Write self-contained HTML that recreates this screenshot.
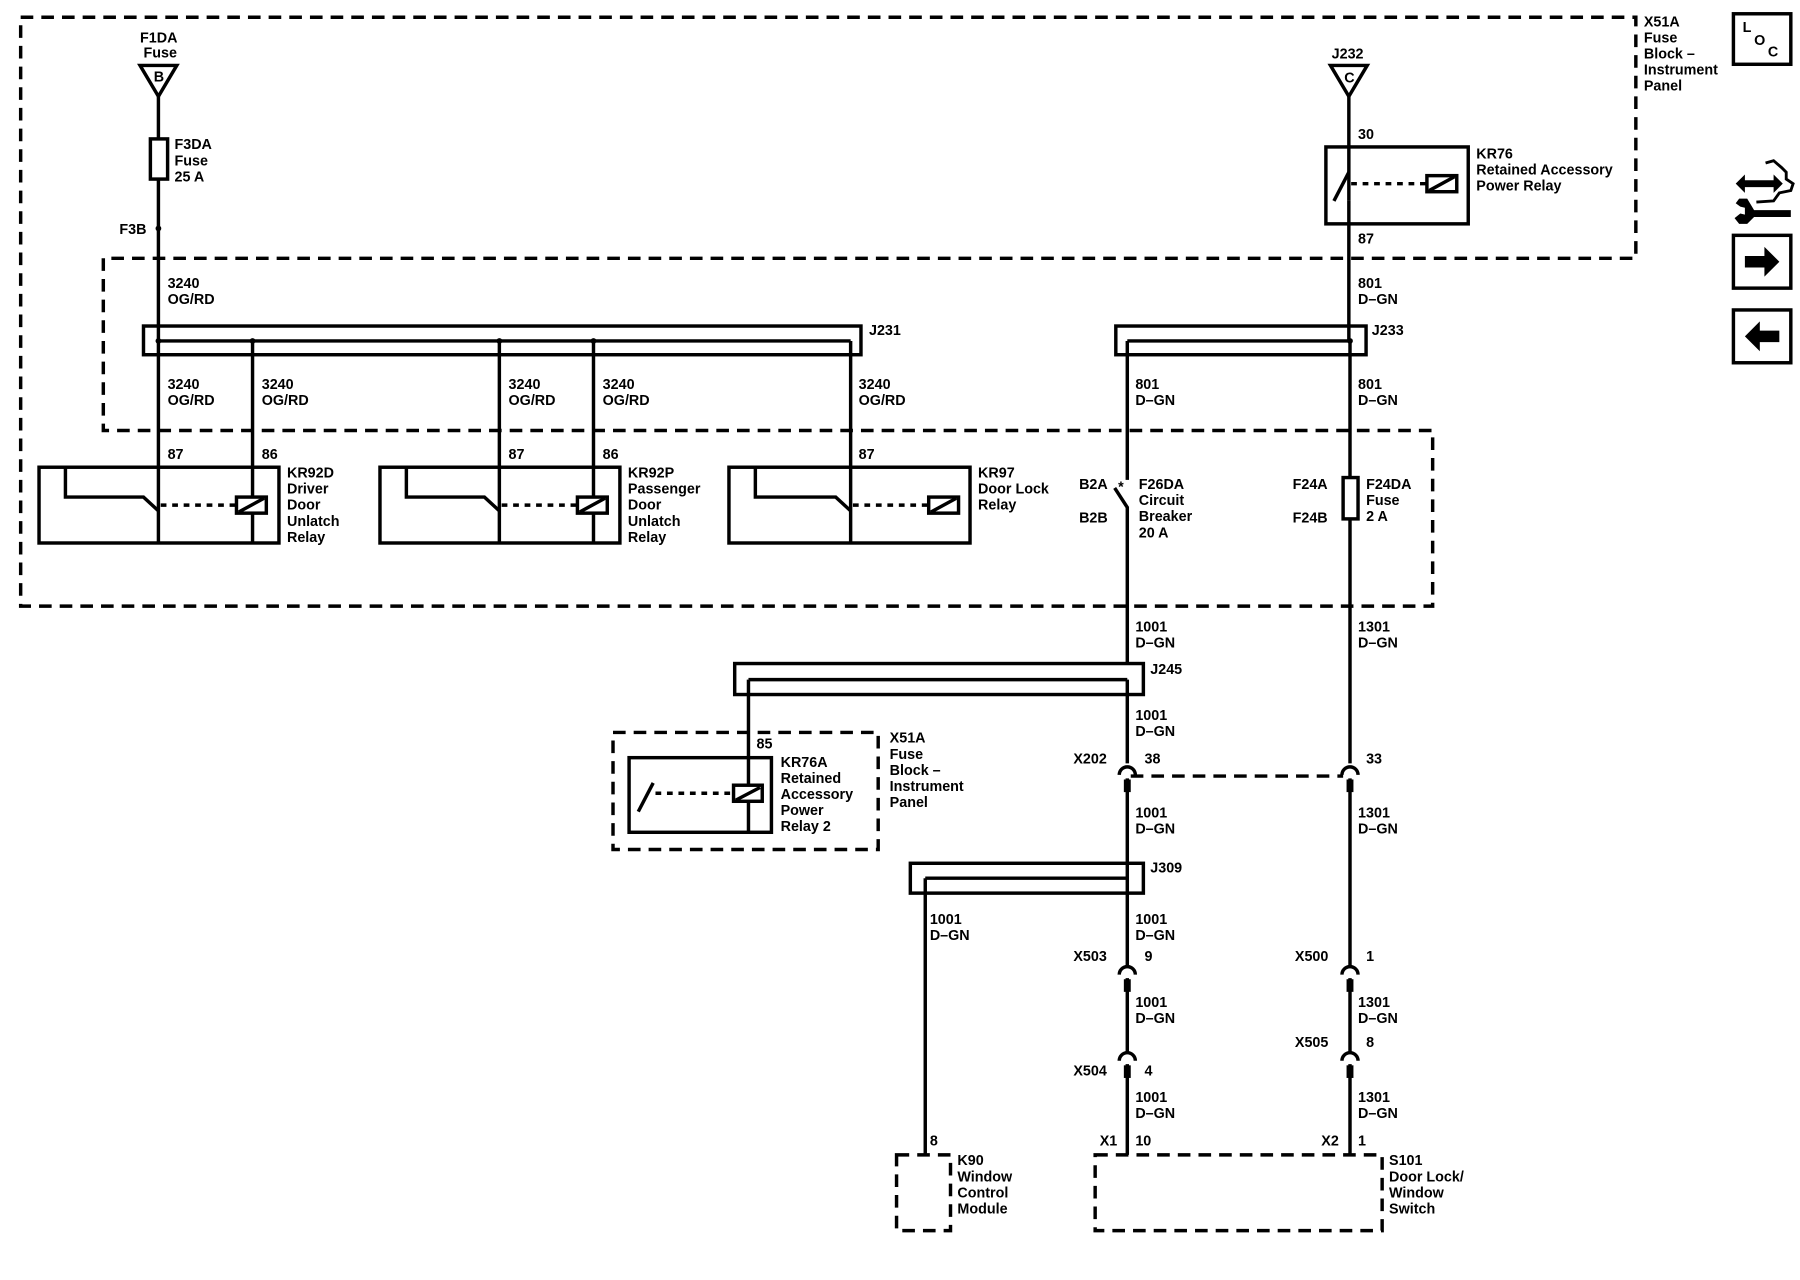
<!DOCTYPE html>
<html><head><meta charset="utf-8"><style>
html,body{margin:0;padding:0;background:#fff;}
svg{display:block;}
text{font-family:"Liberation Sans",Arial,sans-serif;font-size:12.5px;font-weight:bold;fill:#000;}
</style></head><body>
<svg width="1800" height="1280" viewBox="0 0 1568 1115" preserveAspectRatio="none" xmlns="http://www.w3.org/2000/svg">
<g fill="none" stroke="#000" stroke-width="3" stroke-dasharray="11,7">
<path d="M18,15 H1425 V225 H90 V375 H1248 V528 H18 Z"/>
<rect x="534" y="638" width="231" height="102"/>
<rect x="781" y="1006" width="47" height="66"/>
<rect x="954" y="1006" width="250" height="66"/>
<line x1="985" y1="676" x2="1170" y2="676"/>
</g>
<g fill="none" stroke="#000" stroke-width="3">
<!-- left feed -->
<polygon points="122,57 154,57 138,84"/>
<line x1="138" y1="84" x2="138" y2="473"/>
<rect x="131" y="121" width="15" height="35" fill="#fff"/>
<!-- J231 bus -->
<rect x="125" y="284" width="625" height="25"/>
<line x1="138" y1="297" x2="741" y2="297"/>
<line x1="741" y1="297" x2="741" y2="473"/>
<line x1="220" y1="297" x2="220" y2="473"/>
<line x1="435" y1="297" x2="435" y2="473"/>
<line x1="517" y1="297" x2="517" y2="473"/>
<!-- relays -->
<rect x="34" y="407" width="209" height="66"/>
<rect x="331" y="407" width="209" height="66"/>
<rect x="635" y="407" width="210" height="66"/>
<path d="M57,407 V433 H125 L138,445"/>
<path d="M354,407 V433 H422 L435,445"/>
<path d="M658,407 V433 H728 L741,445"/>
<rect x="206" y="433" width="26" height="14" fill="#fff"/>
<rect x="503" y="433" width="26" height="14" fill="#fff"/>
<rect x="809" y="433" width="26" height="14" fill="#fff"/>
<line x1="208" y1="446" x2="230" y2="434"/>
<line x1="505" y1="446" x2="527" y2="434"/>
<line x1="811" y1="446" x2="833" y2="434"/>
<!-- right feed -->
<polygon points="1159,57 1191,57 1175,84"/>
<line x1="1175" y1="84" x2="1175" y2="175"/>
<rect x="1155" y="128" width="124" height="67"/>
<path d="M1162,175 L1175,150"/>
<line x1="1175" y1="175" x2="1175" y2="297"/>
<rect x="1243" y="153" width="26" height="14" fill="#fff"/>
<line x1="1245" y1="166" x2="1267" y2="154"/>
<!-- J233 -->
<rect x="972" y="284" width="218" height="25"/>
<line x1="982" y1="297" x2="1176" y2="297"/>
<line x1="982" y1="297" x2="982" y2="418"/>
<path d="M971,425 L982,442 V578"/>
<line x1="1176" y1="297" x2="1176" y2="665"/>
<rect x="1170" y="416" width="13" height="36" fill="#fff"/>
<!-- J245 -->
<rect x="640" y="578" width="356" height="27"/>
<line x1="652" y1="592" x2="982" y2="592"/>
<line x1="982" y1="592" x2="982" y2="665"/>
<line x1="652" y1="592" x2="652" y2="725"/>
<rect x="548" y="660" width="124" height="65"/>
<path d="M556,707 L569,682"/>
<rect x="639" y="684" width="25" height="14" fill="#fff"/>
<line x1="641" y1="697" x2="662" y2="686"/>
<!-- connectors -->
<path d="M975,675 A7,7 0 0 1 989,675"/>
<path d="M1169,675 A7,7 0 0 1 1183,675"/>
<path d="M975,849 A7,7 0 0 1 989,849"/>
<path d="M1169,849 A7,7 0 0 1 1183,849"/>
<path d="M975,924 A7,7 0 0 1 989,924"/>
<path d="M1169,924 A7,7 0 0 1 1183,924"/>
<line x1="982" y1="678" x2="982" y2="842"/>
<line x1="982" y1="852" x2="982" y2="917"/>
<line x1="982" y1="927" x2="982" y2="1006"/>
<line x1="1176" y1="678" x2="1176" y2="842"/>
<line x1="1176" y1="852" x2="1176" y2="917"/>
<line x1="1176" y1="927" x2="1176" y2="1006"/>
<!-- J309 -->
<rect x="793" y="752" width="203" height="26"/>
<line x1="806" y1="765" x2="982" y2="765"/>
<line x1="806" y1="765" x2="806" y2="1006"/>
<!-- icons -->
<rect x="1510" y="12" width="50" height="44"/>
<rect x="1510" y="205" width="50" height="46"/>
<rect x="1510" y="270" width="50" height="46"/>
<path d="M1538,142 L1545,140 L1552,146 L1556,150 L1556,156 L1562,160 L1560,166 L1550,168 L1545,175 L1530,176" stroke-width="2.5"/>
</g>
<g stroke="#000" stroke-width="3" stroke-dasharray="5,5">
<line x1="140" y1="440" x2="206" y2="440"/>
<line x1="437" y1="440" x2="503" y2="440"/>
<line x1="743" y1="440" x2="809" y2="440"/>
<line x1="1177" y1="160" x2="1243" y2="160"/>
<line x1="571" y1="691" x2="639" y2="691"/>
</g>
<g fill="#000">
<rect x="979" y="679" width="6" height="11"/><rect x="1173" y="679" width="6" height="11"/>
<rect x="979" y="853" width="6" height="11"/><rect x="1173" y="853" width="6" height="11"/>
<rect x="979" y="928" width="6" height="11"/><rect x="1173" y="928" width="6" height="11"/>
<circle cx="138" cy="199" r="2.5"/>
<circle cx="138" cy="297" r="2.5"/><circle cx="220" cy="297" r="2.5"/><circle cx="435" cy="297" r="2.5"/><circle cx="517" cy="297" r="2.5"/>
<circle cx="1176" cy="297" r="2.5"/>
<path d="M1520,223 H1537 V215 L1550,228 L1537,241 V233 H1520 Z"/>
<path d="M1550,288 H1533 V280 L1520,293 L1533,306 V298 H1550 Z"/>
<path d="M1512,160 L1520,152 V157 H1545 V152 L1553,160 L1545,168 V163 H1520 V168 Z"/>
<path d="M1528,183 H1560 V189 H1528 L1522,195 H1515 L1511,190 L1516,186 L1520,187 L1520,181 L1516,180 L1512,177 L1515,173 L1522,173 Z"/>
</g>
<text x="974" y="428" font-size="14">*</text>
<g>
<text x="122" y="37">F1DA</text><text x="125" y="50">Fuse</text>
<text x="134" y="71" font-size="10">B</text>
<text x="152" y="130">F3DA</text><text x="152" y="144">Fuse</text><text x="152" y="158">25 A</text>
<text x="104" y="204">F3B</text>
<text x="146" y="251">3240</text><text x="146" y="265">OG/RD</text>
<text x="757" y="292">J231</text>
<text x="146" y="339">3240</text><text x="146" y="353">OG/RD</text>
<text x="228" y="339">3240</text><text x="228" y="353">OG/RD</text>
<text x="443" y="339">3240</text><text x="443" y="353">OG/RD</text>
<text x="525" y="339">3240</text><text x="525" y="353">OG/RD</text>
<text x="748" y="339">3240</text><text x="748" y="353">OG/RD</text>
<text x="146" y="400">87</text><text x="228" y="400">86</text>
<text x="443" y="400">87</text><text x="525" y="400">86</text>
<text x="748" y="400">87</text>
<text x="250" y="416">KR92D</text><text x="250" y="430">Driver</text><text x="250" y="444">Door</text><text x="250" y="458">Unlatch</text><text x="250" y="472">Relay</text>
<text x="547" y="416">KR92P</text><text x="547" y="430">Passenger</text><text x="547" y="444">Door</text><text x="547" y="458">Unlatch</text><text x="547" y="472">Relay</text>
<text x="852" y="416">KR97</text><text x="852" y="430">Door Lock</text><text x="852" y="444">Relay</text>
<text x="1160" y="51">J232</text>
<text x="1171" y="72" font-size="10">C</text>
<text x="1432" y="23">X51A</text><text x="1432" y="37">Fuse</text><text x="1432" y="51">Block –</text><text x="1432" y="65">Instrument</text><text x="1432" y="79">Panel</text>
<text x="1183" y="121">30</text>
<text x="1286" y="138">KR76</text><text x="1286" y="152">Retained Accessory</text><text x="1286" y="166">Power Relay</text>
<text x="1183" y="212">87</text>
<text x="1183" y="251">801</text><text x="1183" y="265">D–GN</text>
<text x="1195" y="292">J233</text>
<text x="989" y="339">801</text><text x="989" y="353">D–GN</text>
<text x="1183" y="339">801</text><text x="1183" y="353">D–GN</text>
<text x="940" y="426">B2A</text><text x="940" y="455">B2B</text>
<text x="992" y="426">F26DA</text><text x="992" y="440">Circuit</text><text x="992" y="454">Breaker</text><text x="992" y="468">20 A</text>
<text x="1126" y="426">F24A</text><text x="1126" y="455">F24B</text>
<text x="1190" y="426">F24DA</text><text x="1190" y="440">Fuse</text><text x="1190" y="454">2 A</text>
<text x="989" y="550">1001</text><text x="989" y="564">D–GN</text>
<text x="1183" y="550">1301</text><text x="1183" y="564">D–GN</text>
<text x="1002" y="587">J245</text>
<text x="989" y="627">1001</text><text x="989" y="641">D–GN</text>
<text x="659" y="652">85</text>
<text x="680" y="668">KR76A</text><text x="680" y="682">Retained</text><text x="680" y="696">Accessory</text><text x="680" y="710">Power</text><text x="680" y="724">Relay 2</text>
<text x="775" y="647">X51A</text><text x="775" y="661">Fuse</text><text x="775" y="675">Block –</text><text x="775" y="689">Instrument</text><text x="775" y="703">Panel</text>
<text x="935" y="665">X202</text><text x="997" y="665">38</text><text x="1190" y="665">33</text>
<text x="989" y="712">1001</text><text x="989" y="726">D–GN</text>
<text x="1183" y="712">1301</text><text x="1183" y="726">D–GN</text>
<text x="1002" y="760">J309</text>
<text x="810" y="805">1001</text><text x="810" y="819">D–GN</text>
<text x="989" y="805">1001</text><text x="989" y="819">D–GN</text>
<text x="935" y="837">X503</text><text x="997" y="837">9</text>
<text x="1128" y="837">X500</text><text x="1190" y="837">1</text>
<text x="989" y="877">1001</text><text x="989" y="891">D–GN</text>
<text x="1183" y="877">1301</text><text x="1183" y="891">D–GN</text>
<text x="1128" y="912">X505</text><text x="1190" y="912">8</text>
<text x="935" y="937">X504</text><text x="997" y="937">4</text>
<text x="989" y="960">1001</text><text x="989" y="974">D–GN</text>
<text x="1183" y="960">1301</text><text x="1183" y="974">D–GN</text>
<text x="810" y="998">8</text>
<text x="958" y="998">X1</text><text x="989" y="998">10</text>
<text x="1151" y="998">X2</text><text x="1183" y="998">1</text>
<text x="834" y="1015">K90</text><text x="834" y="1029">Window</text><text x="834" y="1043">Control</text><text x="834" y="1057">Module</text>
<text x="1210" y="1015">S101</text><text x="1210" y="1029">Door Lock/</text><text x="1210" y="1043">Window</text><text x="1210" y="1057">Switch</text>
<text x="1518" y="28" font-size="12">L</text><text x="1528" y="39" font-size="12">O</text><text x="1540" y="49" font-size="12">C</text>
</g>
</svg>
</body></html>
